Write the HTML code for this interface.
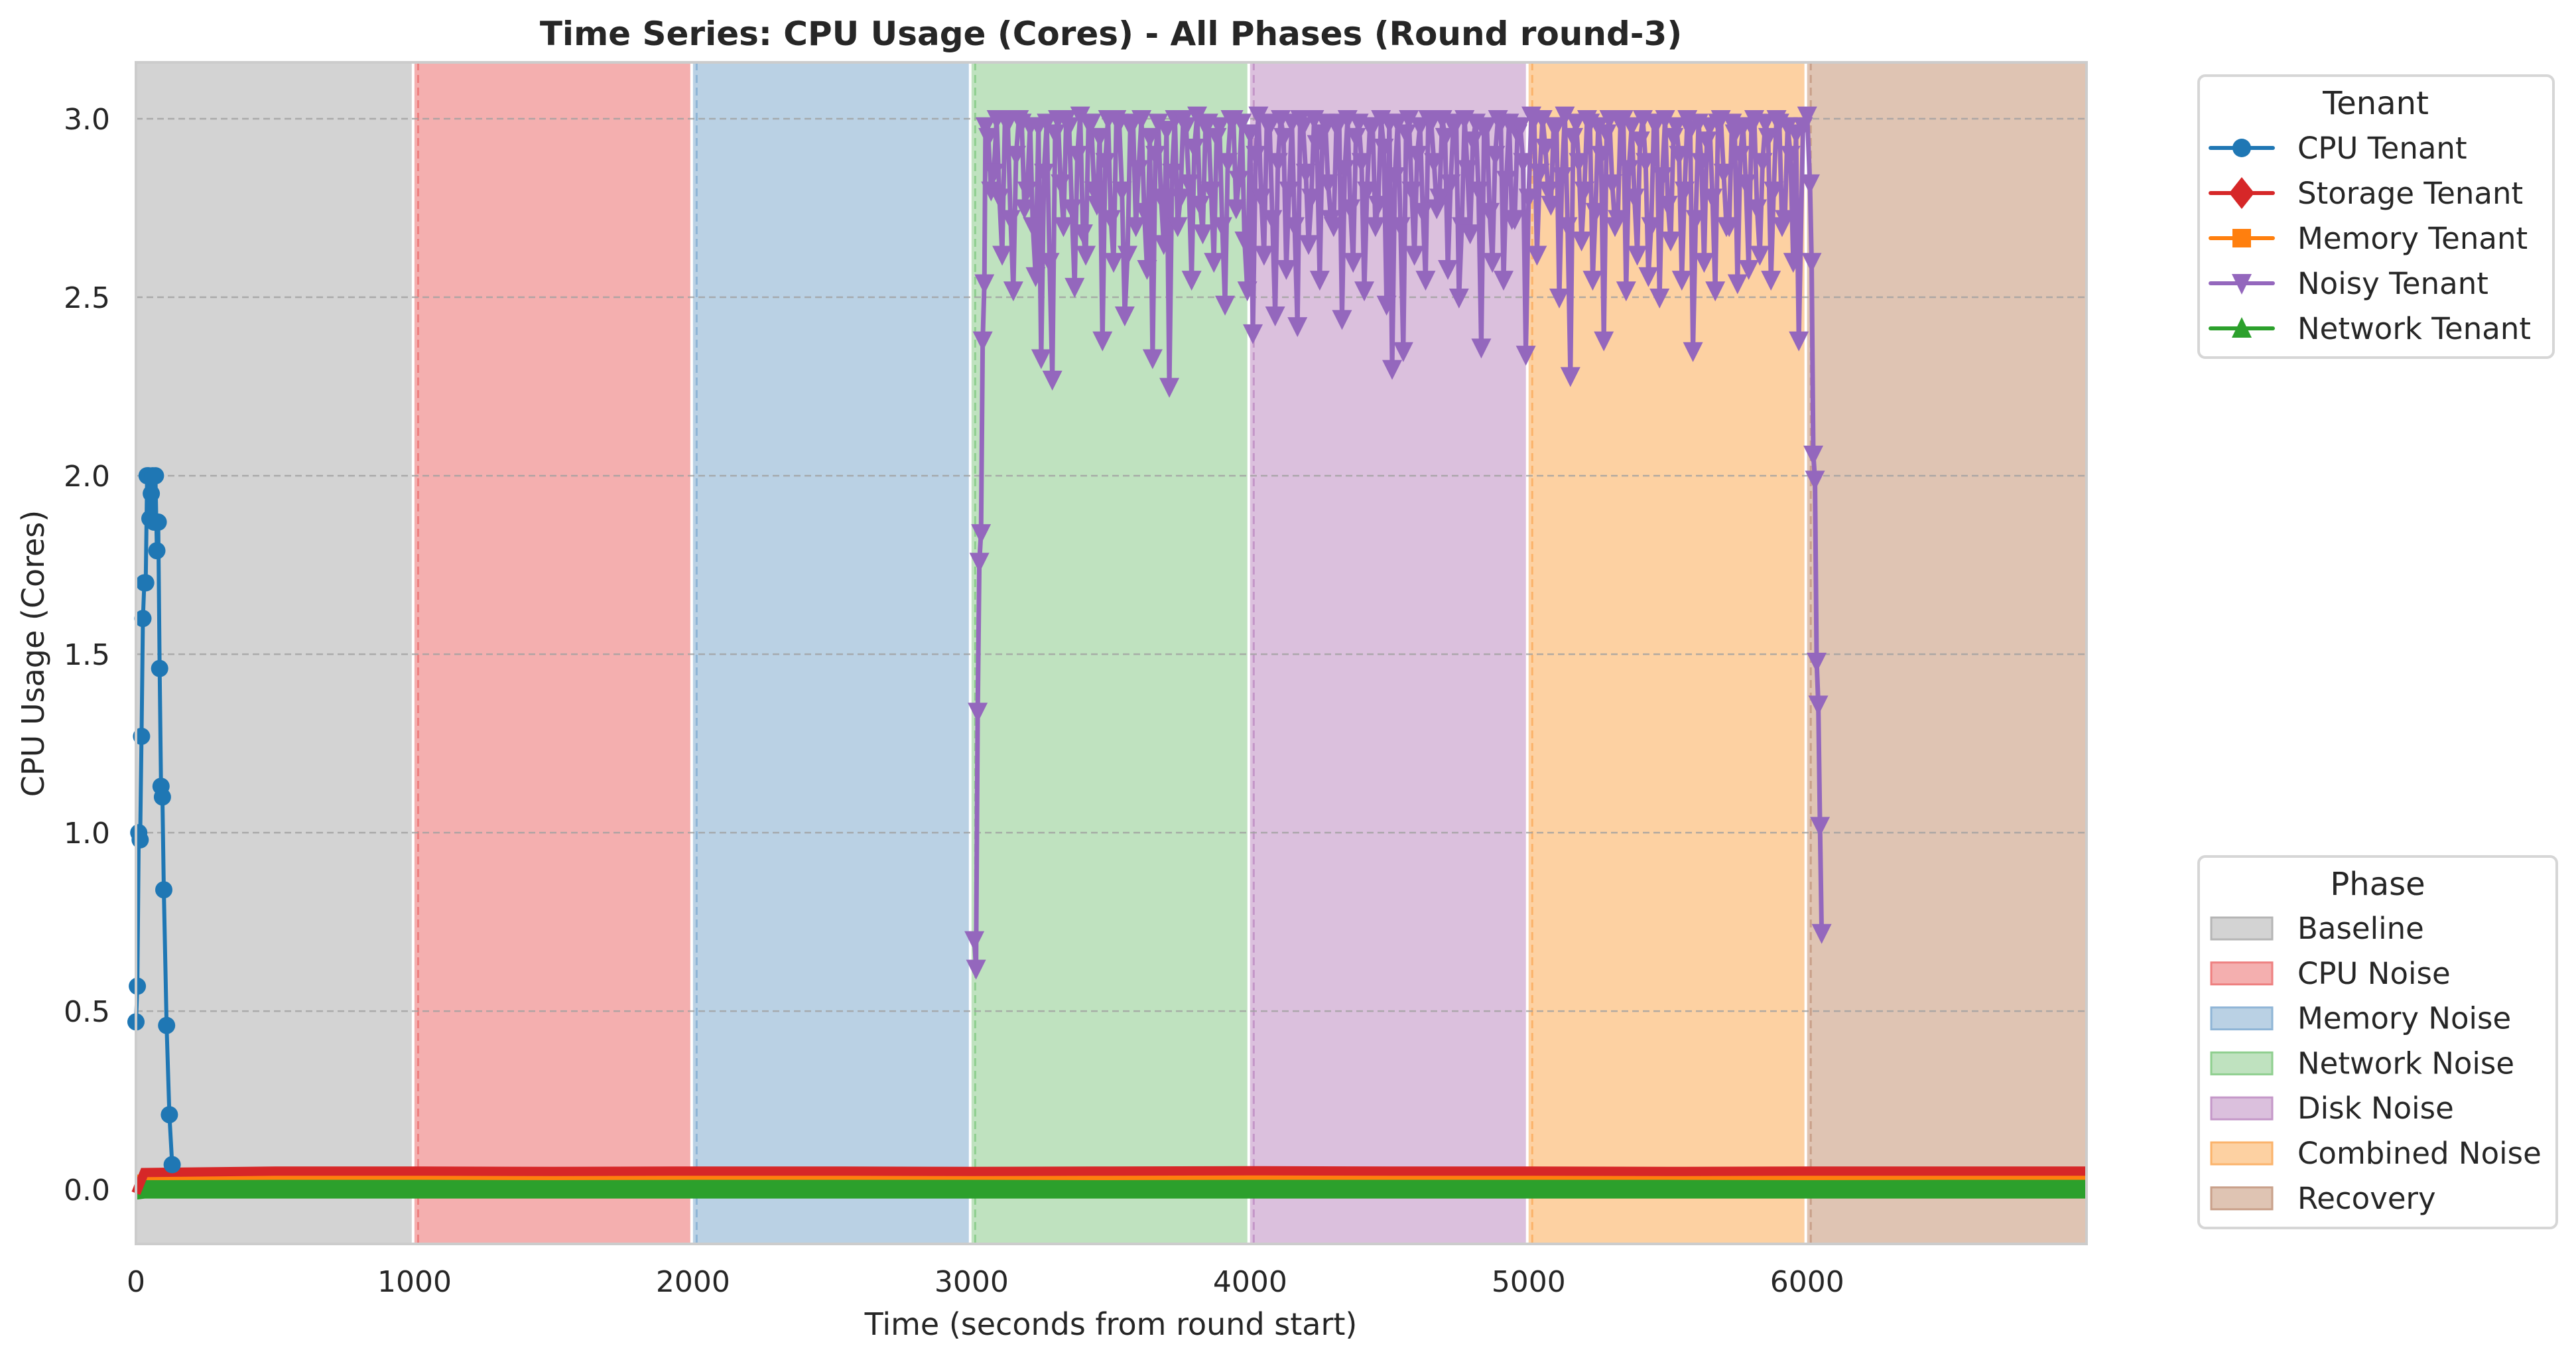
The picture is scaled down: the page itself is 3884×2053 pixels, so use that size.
<!DOCTYPE html>
<html><head><meta charset="utf-8"><style>
html,body{margin:0;padding:0;background:#fff;}
svg{display:block;font-family:"DejaVu Sans","Liberation Sans",sans-serif;}
</style></head><body>
<svg id="chart" width="3884" height="2053" viewBox="0 0 3884 2053" xmlns="http://www.w3.org/2000/svg">
<g id="spans"></g>
<g id="grid"></g>
<g id="series"></g>
<rect x="205" y="94" width="2941" height="1781" fill="none" stroke="#cccccc" stroke-width="4"/>
<g id="ticks"></g>
<text x="1675" y="68" text-anchor="middle" font-size="50" font-weight="bold" fill="#262626">Time Series: CPU Usage (Cores) - All Phases (Round round-3)</text>
<text x="1675" y="2012" text-anchor="middle" font-size="46" fill="#262626">Time (seconds from round start)</text>
<text x="0" y="0" transform="translate(66,985) rotate(-90)" text-anchor="middle" font-size="46" fill="#262626">CPU Usage (Cores)</text>
<g id="tenantLegend">
<rect x="3315" y="114" width="535" height="425" rx="10" fill="#fff" stroke="#d6d6d6" stroke-width="4"/>
<text x="3582" y="172" text-anchor="middle" font-size="48" fill="#262626">Tenant</text>
</g>
<g id="phaseLegend">
<rect x="3315" y="1291" width="540" height="560" rx="10" fill="#fff" stroke="#d6d6d6" stroke-width="4"/>
<text x="3585" y="1349" text-anchor="middle" font-size="48" fill="#262626">Phase</text>
</g>
</svg>
<script>
// ---- data ----
const phaseNames = ["Baseline","CPU Noise","Memory Noise","Network Noise","Disk Noise","Combined Noise","Recovery"];
const phaseStarts = [0,995,1995,2995,3995,4995,5995];
const phaseEnds = [995,1995,2995,3995,4995,5995,7003];
const phaseFill = ["#d3d3d3","#f4afaf","#bad1e4","#bfe2bf","#dbc0dd","#fdd1a2","#dfc4b3"];
const phaseEdge = ["#b5b5b5","#ee8080","#8fb5d6","#8fcf8f","#c497c8","#fbb36b","#c9a08a"];
const xTicks = [0,1000,2000,3000,4000,5000,6000];
const yTicks = [0,0.5,1.0,1.5,2.0,2.5,3.0];
const yTickLabels = ["0.0","0.5","1.0","1.5","2.0","2.5","3.0"];

const cpuTimes = [0,5,10,15,20,25,30,35,40,45,50,55,60,65,70,75,80,85,90,95,100,110,120,130];
const cpuValues = [0.47,0.57,1.00,0.98,1.27,1.60,1.70,1.70,2.00,2.00,1.88,1.95,2.00,1.87,2.00,1.79,1.87,1.46,1.13,1.10,0.84,0.46,0.21,0.07];

const noisyTimes = [3010,3016,3022,3028,3034,3040,3046,
3050,3070,3090,3110,3130,3150,3170,3190,3210,3230,
3250,3270,3290,3310,3330,3350,3370,3390,3410,3430,
3450,3470,3490,3510,3530,3550,3570,3590,3610,3630,
3650,3670,3690,3710,3730,3750,3770,3790,3810,3830,
3850,3870,3890,3910,3930,3950,3970,3990,4010,4030,
4050,4070,4090,4110,4130,4150,4170,4190,4210,4230,
4250,4270,4290,4310,4330,4350,4370,4390,4410,4430,
4450,4470,4490,4510,4530,4550,4570,4590,4610,4630,
4650,4670,4690,4710,4730,4750,4770,4790,4810,4830,
4850,4870,4890,4910,4930,4950,4970,4990,5010,5030,
5050,5070,5090,5110,5130,5150,5170,5190,5210,5230,
5250,5270,5290,5310,5330,5350,5370,5390,5410,5430,
5450,5470,5490,5510,5530,5550,5570,5590,5610,5630,
5650,5670,5690,5710,5730,5750,5770,5790,5810,5830,
5850,5870,5890,5910,5930,5950,5970,5985,
6000,6010,6016,6022,6028,6034,6040,6046,6052];
const noisyValues = [0.70,0.62,1.34,1.76,1.84,2.38,2.54,
2.98,2.80,3.00,2.62,2.99,2.52,3.00,2.75,2.98,2.56,
2.33,2.99,2.27,3.00,2.70,2.98,2.53,3.01,2.62,2.99,
2.76,2.38,3.00,2.60,2.99,2.45,2.98,2.70,3.00,2.58,
2.33,2.99,2.65,2.25,3.00,2.78,2.98,2.55,3.01,2.68,
2.99,2.60,2.98,2.48,3.00,2.75,2.99,2.52,2.40,3.01,
2.62,2.98,2.45,3.00,2.58,2.99,2.42,2.98,2.65,3.00,
2.55,2.99,2.72,2.98,2.44,3.00,2.60,2.99,2.52,2.98,
2.70,3.00,2.48,2.30,2.99,2.35,3.00,2.62,2.98,2.55,
2.99,2.75,3.00,2.58,2.98,2.50,3.00,2.68,2.99,2.36,
2.98,2.60,3.00,2.55,2.99,2.72,2.98,2.34,3.01,2.62,
3.00,2.80,2.98,2.50,3.01,2.28,2.99,2.66,3.00,2.55,
2.98,2.38,3.00,2.70,2.99,2.52,2.98,2.62,3.00,2.56,
2.99,2.50,3.00,2.66,2.98,2.55,3.00,2.35,2.99,2.60,
2.98,2.52,3.00,2.70,2.99,2.54,2.98,2.58,3.00,2.62,
2.99,2.55,3.00,2.70,2.98,2.60,2.38,2.98,
3.01,2.82,2.60,2.06,1.99,1.48,1.36,1.02,0.72];
const noisyMidTimes = [3060,3080,3100,3120,3140,3160,3180,3200,3220,3240,
3260,3280,3300,3320,3340,3360,3380,3400,3420,3440,
3460,3480,3500,3520,3540,3560,3580,3600,3620,3640,
3660,3680,3700,3720,3740,3760,3780,3800,3820,3840,
3860,3880,3900,3920,3940,3960,3980,4000,4020,4040,
4060,4080,4100,4120,4140,4160,4180,4200,4220,4240,
4260,4280,4300,4320,4340,4360,4380,4400,4420,4440,
4460,4480,4500,4520,4540,4560,4580,4600,4620,4640,
4660,4680,4700,4720,4740,4760,4780,4800,4820,4840,
4860,4880,4900,4920,4940,4960,4980,5000,5020,5040,
5060,5080,5100,5120,5140,5160,5180,5200,5220,5240,
5260,5280,5300,5320,5340,5360,5380,5400,5420,5440,
5460,5480,5500,5520,5540,5560,5580,5600,5620,5640,
5660,5680,5700,5720,5740,5760,5780,5800,5820,5840,
5860,5880,5900,5920,5940,5960];
const noisyMidValues = [2.95,2.85,2.78,3.00,2.72,2.90,2.99,2.80,2.70,2.98,
2.85,2.60,2.96,2.82,3.00,2.75,2.90,2.68,2.99,2.80,
2.95,2.88,2.72,3.00,2.80,2.62,2.99,2.86,2.74,2.95,
2.90,2.78,2.97,2.85,2.70,3.00,2.82,2.92,2.76,2.98,
2.80,2.95,2.70,2.88,3.00,2.83,2.66,2.96,2.90,2.78,
2.99,2.72,2.88,2.95,2.80,2.70,3.00,2.85,2.78,2.93,
2.96,2.82,2.70,2.99,2.86,2.75,2.95,2.88,2.80,2.98,
2.76,2.92,2.99,2.84,2.70,2.96,2.80,2.90,2.74,3.00,
2.88,2.78,2.95,2.82,2.99,2.70,2.86,2.94,2.80,2.97,
2.74,2.90,2.99,2.83,2.72,2.96,2.88,2.78,3.00,2.85,
2.92,2.76,2.98,2.84,2.70,2.95,2.88,2.80,2.99,2.74,
2.90,2.96,2.82,2.72,3.00,2.86,2.78,2.94,2.88,2.70,
2.99,2.84,2.76,2.95,2.90,2.80,2.97,2.72,2.88,2.94,
2.78,2.99,2.85,2.70,2.96,2.90,2.82,2.98,2.75,2.88,
2.95,2.80,2.99,2.72,2.90,2.96];

const lowTimes = [0,30,500,1000,1500,2000,2500,3000,3500,4000,4500,5000,5500,6000,6500,7003];
const storageValues = [-0.01,0.048,0.052,0.052,0.051,0.052,0.052,0.051,0.052,0.053,0.052,0.052,0.051,0.052,0.052,0.052];
const memoryValues = [0.035,0.034,0.035,0.035,0.034,0.035,0.035,0.035,0.034,0.035,0.035,0.035,0.035,0.034,0.035,0.035];
const networkValues = [0.0,0.003,0.003,0.003,0.003,0.003,0.003,0.003,0.003,0.003,0.003,0.003,0.003,0.003,0.003,0.003];

const tenantNames = ["CPU Tenant","Storage Tenant","Memory Tenant","Noisy Tenant","Network Tenant"];
const tenantColors = ["#1f77b4","#d62728","#ff7f0e","#9467bd","#2ca02c"];

// ---- axes ----
const X0=205, X1=3146, Y_TOP=94, Y_BOT=1875, XMIN=0, XMAX=7003, YMIN=-0.152, YMAX=3.158;
const xs = t => X0 + (t-XMIN)/(XMAX-XMIN)*(X1-X0);
const ys = v => Y_BOT - (v-YMIN)/(YMAX-YMIN)*(Y_BOT-Y_TOP);
const NS="http://www.w3.org/2000/svg";
function mk(tag, parent, attrs){const e=document.createElementNS(NS,tag);for(const k in attrs)e.setAttribute(k,attrs[k]);parent.appendChild(e);return e;}

const spans=document.getElementById('spans');
phaseNames.forEach((p,i)=>{
  const r=mk('rect',spans,{x:xs(phaseStarts[i]),y:Y_TOP,width:xs(phaseEnds[i])-xs(phaseStarts[i]),height:Y_BOT-Y_TOP,fill:phaseFill[i]});
  
  
  if(i>0){
    const w=mk('line',spans,{x1:xs(phaseStarts[i]),x2:xs(phaseStarts[i]),y1:Y_TOP,y2:Y_BOT,stroke:'#ffffff','stroke-width':4});
    
    
    const d=mk('line',spans,{x1:xs(phaseStarts[i]+18),x2:xs(phaseStarts[i]+18),y1:Y_TOP,y2:Y_BOT,stroke:phaseEdge[i],'stroke-width':3,'stroke-dasharray':'12,7'});
    
    
  }
});
const grid=document.getElementById('grid');
const ticks=document.getElementById('ticks');
yTicks.forEach((v,i)=>{
  const g=mk('line',grid,{x1:X0,x2:X1,y1:ys(v),y2:ys(v),stroke:'#a0a0a0','stroke-opacity':0.8,'stroke-width':2.5,'stroke-dasharray':'10,6'});
  
  
  const t=mk('text',ticks,{x:166,y:ys(v)+16,'text-anchor':'end','font-size':44,fill:'#262626'});
  t.textContent=yTickLabels[i];
  
  
});
xTicks.forEach(v=>{
  const t=mk('text',ticks,{x:xs(v),y:1947,'text-anchor':'middle','font-size':44,fill:'#262626'});
  t.textContent=String(v);
  
  
});

const series=document.getElementById('series');
function pts(times,vals){return times.map((t,i)=>xs(t)+','+ys(vals[i])).join(' ');}
// low series
const net=mk('polyline',series,{points:pts(lowTimes,networkValues),fill:'none',stroke:'#2ca02c','stroke-width':30,'stroke-linejoin':'round'});


const mem=mk('polyline',series,{points:pts(lowTimes,memoryValues),fill:'none',stroke:'#ff7f0e','stroke-width':8});


const sto=mk('polyline',series,{points:pts(lowTimes,storageValues),fill:'none',stroke:'#d62728','stroke-width':14});


// CPU tenant
const cl=mk('polyline',series,{points:pts(cpuTimes,cpuValues),fill:'none',stroke:'#1f77b4','stroke-width':6,'stroke-linejoin':'round'});


cpuTimes.forEach((t,i)=>{
  const c=mk('circle',series,{cx:xs(t),cy:ys(cpuValues[i]),r:13,fill:'#1f77b4'});
  
  
});
// Noisy tenant: merge main + mid samples by time
const noisyAll = noisyTimes.map((t,i)=>[t,noisyValues[i]]).concat(noisyMidTimes.map((t,i)=>[t,noisyMidValues[i]])).sort((a,b)=>a[0]-b[0]);
const nl=mk('polyline',series,{points:noisyAll.map(p=>xs(p[0])+','+ys(p[1])).join(' '),fill:'none',stroke:'#9467bd','stroke-width':7,'stroke-linejoin':'round'});


noisyAll.forEach(p=>{
  const x=xs(p[0]),y=ys(p[1]);
  const m=mk('polygon',series,{points:`${x-15},${y-13} ${x+15},${y-13} ${x},${y+17}`,fill:'#9467bd'});
  
  
});

// tenant legend
const tl=document.getElementById('tenantLegend');
tenantNames.forEach((n,i)=>{
  const y=223+i*68, c=tenantColors[i];
  const g=mk('g',tl,{});
  
  
  mk('line',g,{x1:3333,x2:3427,y1:y,y2:y,stroke:c,'stroke-width':6,'stroke-linecap':'round'});
  if(i===0) mk('circle',g,{cx:3380,cy:y,r:14,fill:c});
  if(i===1) mk('polygon',g,{points:`3380,${y-24} 3399,${y} 3380,${y+24} 3361,${y}`,fill:c});
  if(i===2) mk('rect',g,{x:3366,y:y-14,width:28,height:28,fill:c});
  if(i===3) mk('polygon',g,{points:`3365,${y-14} 3395,${y-14} 3380,${y+17}`,fill:c});
  if(i===4) mk('polygon',g,{points:`3365,${y+14} 3395,${y+14} 3380,${y-17}`,fill:c});
  const t=mk('text',g,{x:3464,y:y+16,'font-size':45,fill:'#262626'});
  t.textContent=n;
});
// phase legend
const pl=document.getElementById('phaseLegend');
phaseNames.forEach((n,i)=>{
  const y=1399+i*67.8;
  const g=mk('g',pl,{});
  
  
  mk('rect',g,{x:3334,y:y-16,width:92,height:33,fill:phaseFill[i],stroke:phaseEdge[i],'stroke-width':3});
  const t=mk('text',g,{x:3464,y:y+16,'font-size':45,fill:'#262626'});
  t.textContent=n;
});
</script>
</body></html>
